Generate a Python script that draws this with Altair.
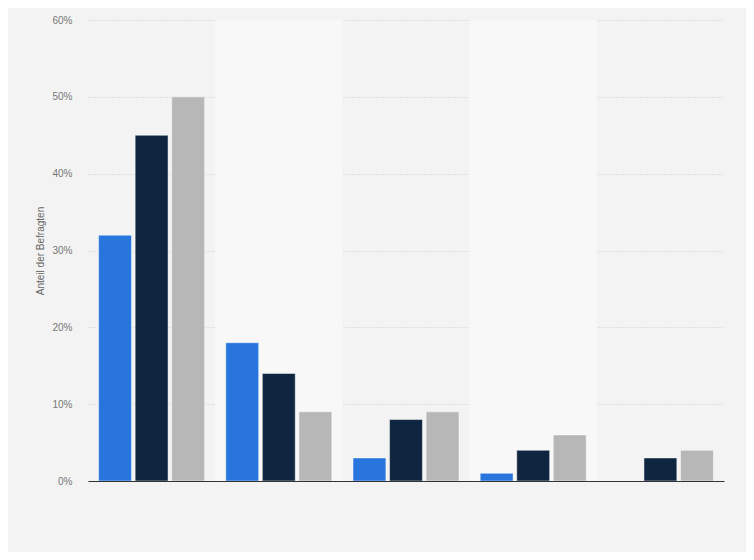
import altair as alt
import pandas as pd

groups = ["A", "B", "C", "D", "E"]
series = ["Serie 1", "Serie 2", "Serie 3"]
serie1 = [32, 18, 3, 1, None]
serie2 = [45, 14, 8, 4, 3]
serie3 = [50, 9, 9, 6, 4]
y_ticks = [0, 10, 20, 30, 40, 50, 60]
colors = ["#2876dd", "#0f2640", "#b7b7b7"]

rows = []
for vals, s in zip([serie1, serie2, serie3], series):
    for g, v in zip(groups, vals):
        if v is not None:
            rows.append({"group": g, "series": s, "value": v})
df = pd.DataFrame(rows)
bands = pd.DataFrame({"group": groups, "idx": list(range(len(groups)))})

W, H = 636, 461

xscale = alt.Scale(domain=groups, paddingInner=0, paddingOuter=0)

band_layer = alt.Chart(bands).transform_filter("datum.idx % 2 == 1").mark_rect(
    color="#f8f8f8"
).encode(
    x=alt.X("group:N", scale=xscale, axis=alt.Axis(labels=False, ticks=False, title=None,
                                                    domainColor="#333333", domainWidth=1)),
    y=alt.value(0),
    y2=alt.value(H),
)

bars = alt.Chart(df).mark_bar(stroke="#ffffff", strokeWidth=0.8, strokeOpacity=0.6).encode(
    x=alt.X("group:N", scale=xscale),
    xOffset=alt.XOffset("series:N", scale=alt.Scale(domain=series, paddingInner=0.1, paddingOuter=0.29)),
    y=alt.Y("value:Q", scale=alt.Scale(domain=[0, 60], nice=False),
            axis=alt.Axis(values=y_ticks, labelExpr="datum.value + '%'", title="Anteil der Befragten",
                          grid=True, gridDash=[1, 2], gridColor="#cccccc", domain=False, ticks=False,
                          labelPadding=16, labelColor="#777777", labelFontSize=10,
                          titleColor="#666666", titleFontSize=10, titleFontWeight="normal",
                          titlePadding=6, labelFont="Liberation Sans", titleFont="Liberation Sans")),
    color=alt.Color("series:N", scale=alt.Scale(domain=series, range=colors), legend=None),
)

chart = alt.layer(band_layer, bars).properties(
    width=W, height=H,
    autosize=alt.AutoSizeParams(type="none"),
    padding={"left": 80, "top": 12, "right": 22, "bottom": 71},
    background="#f3f3f3",
).configure_view(stroke=None, fill="#f3f3f3")

chart.save("out.html", embed_options={"renderer": "svg", "actions": False})
